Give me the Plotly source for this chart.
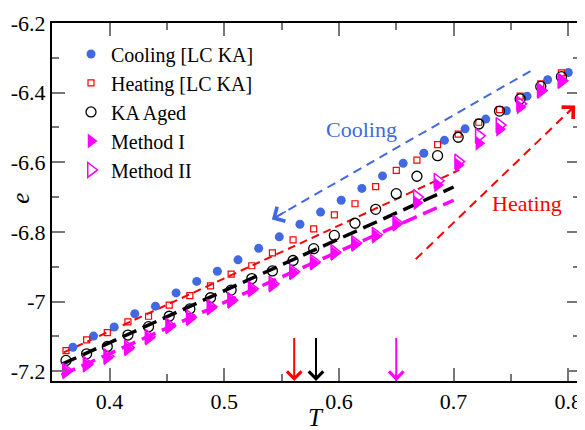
import plotly.graph_objects as go

# ---------------- data ----------------
T_cool = [0.368, 0.386, 0.404, 0.422, 0.440, 0.458, 0.476, 0.494, 0.512, 0.530,
          0.548, 0.566, 0.584, 0.602, 0.620, 0.638, 0.656, 0.674, 0.692, 0.710,
          0.728, 0.746, 0.764, 0.782, 0.800]
e_cool = [-7.131, -7.099, -7.073, -7.035, -7.013, -6.975, -6.942, -6.913, -6.880, -6.847,
          -6.814, -6.778, -6.743, -6.709, -6.675, -6.639, -6.603, -6.574, -6.537, -6.504,
          -6.476, -6.452, -6.410, -6.363, -6.342]

T_heat = [0.362, 0.380, 0.398, 0.416, 0.434, 0.452, 0.470, 0.488, 0.506, 0.524,
          0.542, 0.560, 0.578, 0.596, 0.614, 0.632, 0.650, 0.668, 0.686, 0.704,
          0.722, 0.740, 0.758, 0.776, 0.794]
e_heat = [-7.141, -7.110, -7.089, -7.058, -7.042, -7.010, -6.983, -6.955, -6.921, -6.897,
          -6.860, -6.823, -6.791, -6.751, -6.719, -6.670, -6.623, -6.594, -6.549, -6.519,
          -6.485, -6.449, -6.410, -6.375, -6.343]

e_aged = [-7.169, -7.150, -7.129, -7.096, -7.072, -7.042, -7.021, -6.989, -6.967, -6.934,
          -6.912, -6.882, -6.848, -6.810, -6.775, -6.735, -6.690, -6.640, -6.581, -6.528,
          -6.490, -6.453, -6.418, -6.382, -6.354]

e_m1 = [-7.202, -7.183, -7.161, -7.136, -7.105, -7.073, -7.049, -7.019, -7.000, -6.967,
        -6.953, -6.918, -6.890, -6.862, -6.836, -6.812, -6.778, -6.716, -6.665, -6.608,
        -6.545, -6.505, -6.441, -6.394, -6.366]
e_m2 = [-7.198, -7.179, -7.157, -7.132, -7.101, -7.069, -7.045, -7.015, -6.996, -6.963,
        -6.949, -6.914, -6.886, -6.858, -6.832, -6.808, -6.774, -6.700, -6.653, -6.598,
        -6.524, -6.493, -6.432, -6.394, -6.366]

# fit lines (start, end)
fit_heat_T = [0.360, 0.705]
fit_heat_e = [-7.146, -6.622]
fit_aged_T = [0.359, 0.700]
fit_aged_e = [-7.179, -6.671]
fit_m_T = [0.358, 0.700]
fit_m_e = [-7.211, -6.709]

# guide arrows: (start -> tip)
cool_arrow_T = [0.767, 0.5415]
cool_arrow_e = [-6.338, -6.764]
heat_arrow_T = [0.667, 0.806]
heat_arrow_e = [-6.878, -6.437]

# vertical markers on T axis
Tg_vals = [0.561, 0.580, 0.650]
Tg_colors = ["#ff0000", "#000000", "#ff00ff"]
Tg_top = -7.100
e_bottom = -7.228

xtick_vals = [0.4, 0.5, 0.6, 0.7, 0.8]
xtick_text = ["0.4", "0.5", "0.6", "0.7", "0.8"]
ytick_vals = [-7.2, -7.0, -6.8, -6.6, -6.4, -6.2]
ytick_text = ["-7.2", "-7", "-6.8", "-6.6", "-6.4", "-6.2"]

BLUE = "#4169e1"
RED = "#ff0000"
MAG = "#ff00ff"
FONT = "Liberation Serif, Times New Roman, serif"

fig = go.Figure()

# dashed lines (underneath)
fig.add_trace(go.Scatter(x=fit_heat_T, y=fit_heat_e, mode="lines", showlegend=False,
                         line=dict(color=RED, width=2, dash="8px,5px")))
fig.add_trace(go.Scatter(x=fit_aged_T, y=fit_aged_e, mode="lines", showlegend=False,
                         line=dict(color="black", width=3.5, dash="15px,7px")))
fig.add_trace(go.Scatter(x=fit_m_T, y=fit_m_e, mode="lines", showlegend=False,
                         line=dict(color=MAG, width=3.5, dash="15px,7px")))
fig.add_trace(go.Scatter(x=cool_arrow_T, y=cool_arrow_e, mode="lines", showlegend=False,
                         line=dict(color=BLUE, width=2, dash="9px,6px")))
fig.add_trace(go.Scatter(x=heat_arrow_T, y=heat_arrow_e, mode="lines", showlegend=False,
                         line=dict(color=RED, width=2, dash="9px,6px")))

# data series
fig.add_trace(go.Scatter(x=T_cool, y=e_cool, mode="markers", name="Cooling [LC KA]",
                         marker=dict(symbol="circle", size=9, color=BLUE)))
fig.add_trace(go.Scatter(x=T_heat, y=e_heat, mode="markers", name="Heating [LC KA]",
                         marker=dict(symbol="square-open", size=6, color=RED,
                                     line=dict(width=1.2, color=RED))))
fig.add_trace(go.Scatter(x=T_heat, y=e_aged, mode="markers", name="KA Aged",
                         marker=dict(symbol="circle-open", size=10, color="black",
                                     line=dict(width=1.3, color="black"))))
fig.add_trace(go.Scatter(x=T_heat, y=e_m1, mode="markers", name="Method I",
                         marker=dict(symbol="triangle-right", size=13, color=MAG,
                                     line=dict(width=0))))
fig.add_trace(go.Scatter(x=T_heat, y=e_m2, mode="markers", name="Method II",
                         marker=dict(symbol="triangle-right-open", size=13, color=MAG,
                                     line=dict(width=1.5, color=MAG))))

annotations = []
# arrow heads for dashed guide arrows
for Ts, es, col in [(cool_arrow_T, cool_arrow_e, BLUE), (heat_arrow_T, heat_arrow_e, RED)]:
    tail_T = Ts[1] + 0.06 * (Ts[0] - Ts[1])
    tail_e = es[1] + 0.06 * (es[0] - es[1])
    annotations.append(dict(x=Ts[1], y=es[1], ax=tail_T, ay=tail_e, xref="x", yref="y",
                            axref="x", ayref="y", showarrow=True, text="",
                            arrowhead=4, arrowsize=2.0, arrowwidth=1.6, arrowcolor=col))
# vertical arrows at the bottom
for Tg, col in zip(Tg_vals, Tg_colors):
    annotations.append(dict(x=Tg, y=e_bottom, ax=Tg, ay=Tg_top, xref="x", yref="y",
                            axref="x", ayref="y", showarrow=True, text="",
                            arrowhead=4, arrowsize=1.4, arrowwidth=2, arrowcolor=col))

annotations.append(dict(x=0.620, y=-6.507, xref="x", yref="y", text="Cooling", showarrow=False,
                        xanchor="center", yanchor="middle",
                        font=dict(family=FONT, size=22, color=BLUE)))
annotations.append(dict(x=0.764, y=-6.718, xref="x", yref="y", text="Heating", showarrow=False,
                        xanchor="center", yanchor="middle",
                        font=dict(family=FONT, size=22, color=RED)))
annotations.append(dict(x=-0.06, y=0.51, xref="paper", yref="paper", text="<i>e</i>",
                        showarrow=False, textangle=-90, xanchor="center", yanchor="middle",
                        font=dict(family=FONT, size=25, color="black")))
annotations.append(dict(x=0.4994, y=-0.101, xref="paper", yref="paper", text="<i>T</i>",
                        showarrow=False, xanchor="center", yanchor="middle",
                        font=dict(family=FONT, size=25, color="black")))

axis_common = dict(showline=True, linecolor="black", linewidth=2, mirror="allticks",
                   ticks="inside", ticklen=13, tickwidth=2, tickcolor="#777777",
                   showgrid=False, zeroline=False, ticklabeloverflow="allow",
                   tickfont=dict(family=FONT, size=22, color="black"))

# page body has an 8px default margin: size the figure so the plot area lands
# where the reference has it inside the 585x430 window
fig.update_layout(
    width=577, height=422,
    margin=dict(l=44, r=3, t=8, b=49),
    paper_bgcolor="white", plot_bgcolor="white",
    font=dict(family=FONT, size=21, color="black"),
    showlegend=True,
    legend=dict(x=0.036, y=0.968, xanchor="left", yanchor="top",
                bgcolor="rgba(0,0,0,0)", font=dict(family=FONT, size=20),
                tracegroupgap=0, itemsizing="trace"),
    xaxis=dict(range=[0.3498, 0.8102], tickvals=xtick_vals, ticktext=xtick_text,
               minor=dict(ticks="inside", ticklen=7, tickwidth=2, tickcolor="#777777", dtick=0.05),
               **axis_common),
    yaxis=dict(range=[e_bottom, -6.2], tickvals=ytick_vals, ticktext=ytick_text,
               minor=dict(ticks="inside", ticklen=7, tickwidth=2, tickcolor="#777777", dtick=0.1),
               **axis_common),
    annotations=annotations,
)

fig.write_html("out.html")
